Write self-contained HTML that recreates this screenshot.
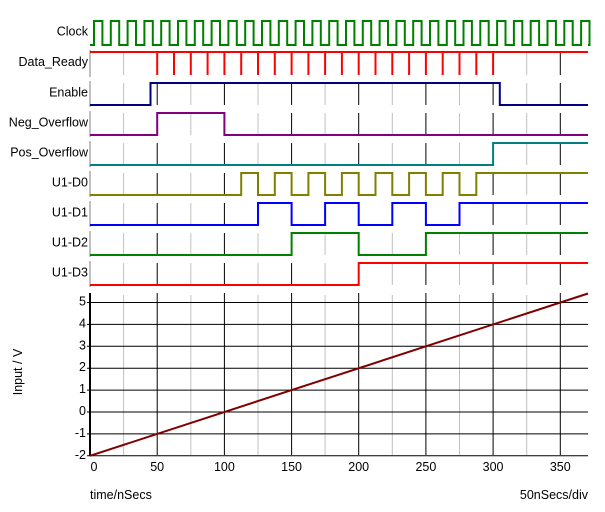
<!DOCTYPE html>
<html><head><meta charset="utf-8"><style>
html,body{margin:0;padding:0;background:#fff}
svg{display:block;font-family:"Liberation Sans",sans-serif;font-size:12px}
</style></head><body>
<svg id="s" width="605" height="512" xmlns="http://www.w3.org/2000/svg"></svg>
<script>
const s=document.getElementById('s');
const X=t=>90+t*1.3437;
let h='';
const rows=[['Clock',21,45,'#008000'],['Data_Ready',52,75,'#ff0000'],['Enable',83,105,'#000080'],['Neg_Overflow',113,135,'#800080'],['Pos_Overflow',143,165,'#008080'],['U1-D0',173,195,'#808000'],['U1-D1',203,225,'#0000ff'],['U1-D2',233,255,'#008000'],['U1-D3',263,285,'#ff0000']];
rows.forEach((r,i)=>{
  const [n,hi,lo,c]=r;
  if(i>0){
    for(let t=25;t<=370;t+=25){const x=X(t).toFixed(1);
      h+=`<line x1="${x}" y1="${hi}" x2="${x}" y2="${lo}" stroke="${t%50==0?'#000':'#c0c0c0'}" stroke-width="1"/>`;}
    h+=`<line x1="90" y1="${hi-2}" x2="90" y2="${lo+2}" stroke="#c0c0c0" stroke-width="2"/>`;
  }
  h+=`<text x="88" y="${(hi+lo)/2+2.5}" text-anchor="end" fill="#000" font-size="12.5">${n}</text>`;
});
function trace(r,edges,start){
  const [n,hi,lo,c]=r; let lvl=start; let d=`M90,${lvl?hi:lo}`;
  edges.forEach(t=>{const x=X(t).toFixed(1);d+=` L${x},${lvl?hi:lo}`;lvl=!lvl;d+=` L${x},${lvl?hi:lo}`;});
  d+=` L588,${lvl?hi:lo}`;
  h+=`<path d="${d}" fill="none" stroke="${c}" stroke-width="2"/>`;
}
let ce=[];for(let t=3;t<372;t+=6.25)ce.push(t);
trace(rows[0],ce,false);
h+=`<line x1="90" y1="52" x2="588" y2="52" stroke="#f00" stroke-width="2"/>`;
for(let t=50;t<=300;t+=12.5){const x=X(t).toFixed(1);h+=`<line x1="${x}" y1="52" x2="${x}" y2="75" stroke="#f00" stroke-width="2"/>`;}
trace(rows[2],[45,305],false);
trace(rows[3],[50,100],false);
trace(rows[4],[300],false);
let d0=[];for(let t=112.5;t<=287.5;t+=12.5)d0.push(t);
trace(rows[5],d0,false);
trace(rows[6],[125,150,175,200,225,250,275],false);
trace(rows[7],[150,200,250],false);
trace(rows[8],[200],false);
const Y=v=>412-v*21.9;
for(let t=25;t<=370;t+=25){const x=X(t).toFixed(1);
  h+=`<line x1="${x}" y1="${t%50==0?293:295}" x2="${x}" y2="455" stroke="${t%50==0?'#000':'#c0c0c0'}" stroke-width="1"/>`;}
for(let v=-2;v<=5;v++){const y=Y(v).toFixed(1);
  h+=`<line x1="87" y1="${y}" x2="588" y2="${y}" stroke="#000" stroke-width="1"/>`;
  h+=`<text x="86" y="${(+y+3).toFixed(1)}" text-anchor="end" font-size="12.5">${v}</text>`;}
h+=`<line x1="90" y1="293" x2="90" y2="456" stroke="#000" stroke-width="2"/>`;
for(let t=0;t<=350;t+=50)h+=`<text x="${(X(t)+(t==0?4:0)).toFixed(1)}" y="471" text-anchor="middle" font-size="12.5">${t}</text>`;
const tEnd=(588-90)/1.3437;
h+=`<line x1="90" y1="${Y(-2)}" x2="588" y2="${Y(-2+tEnd/50).toFixed(1)}" stroke="#800000" stroke-width="2"/>`;
h+=`<text x="22" y="372" text-anchor="middle" transform="rotate(-90 22 372)" font-size="12.5">Input / V</text>`;
h+=`<text x="90" y="499" font-size="12.5">time/nSecs</text>`;
h+=`<text x="588" y="499" text-anchor="end" font-size="12.5">50nSecs/div</text>`;
s.innerHTML=h;
</script>
</body></html>
